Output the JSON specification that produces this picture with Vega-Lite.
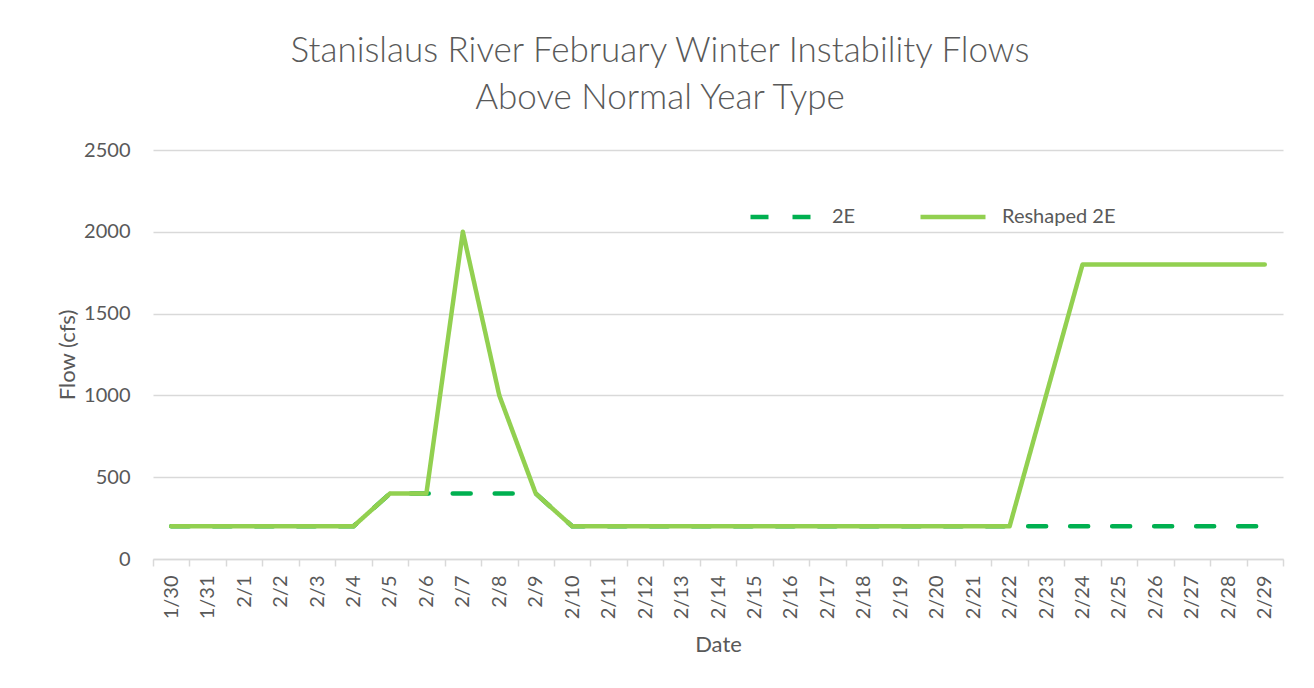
{
  "$schema": "https://vega.github.io/schema/vega-lite/v6.json",
  "autosize": "none",
  "width": 1130,
  "height": 409,
  "padding": {"left": 153, "top": 150, "right": 31, "bottom": 129},
  "background": "white",
  "config": {
    "font": "Lato",
    "view": {"stroke": null}
  },
  "title": {
    "text": ["Stanislaus River February Winter Instability Flows", "Above Normal Year Type"],
    "font": "Lato",
    "fontSize": 35,
    "fontWeight": 300,
    "color": "#595959",
    "anchor": "middle",
    "dx": -58,
    "offset": 24,
    "lineHeight": 47
  },
  "data": {
    "values": [
      {"date": "1/30", "series": "2E", "flow": 200},
      {"date": "1/31", "series": "2E", "flow": 200},
      {"date": "2/1", "series": "2E", "flow": 200},
      {"date": "2/2", "series": "2E", "flow": 200},
      {"date": "2/3", "series": "2E", "flow": 200},
      {"date": "2/4", "series": "2E", "flow": 200},
      {"date": "2/5", "series": "2E", "flow": 400},
      {"date": "2/6", "series": "2E", "flow": 400},
      {"date": "2/7", "series": "2E", "flow": 400},
      {"date": "2/8", "series": "2E", "flow": 400},
      {"date": "2/9", "series": "2E", "flow": 400},
      {"date": "2/10", "series": "2E", "flow": 200},
      {"date": "2/11", "series": "2E", "flow": 200},
      {"date": "2/12", "series": "2E", "flow": 200},
      {"date": "2/13", "series": "2E", "flow": 200},
      {"date": "2/14", "series": "2E", "flow": 200},
      {"date": "2/15", "series": "2E", "flow": 200},
      {"date": "2/16", "series": "2E", "flow": 200},
      {"date": "2/17", "series": "2E", "flow": 200},
      {"date": "2/18", "series": "2E", "flow": 200},
      {"date": "2/19", "series": "2E", "flow": 200},
      {"date": "2/20", "series": "2E", "flow": 200},
      {"date": "2/21", "series": "2E", "flow": 200},
      {"date": "2/22", "series": "2E", "flow": 200},
      {"date": "2/23", "series": "2E", "flow": 200},
      {"date": "2/24", "series": "2E", "flow": 200},
      {"date": "2/25", "series": "2E", "flow": 200},
      {"date": "2/26", "series": "2E", "flow": 200},
      {"date": "2/27", "series": "2E", "flow": 200},
      {"date": "2/28", "series": "2E", "flow": 200},
      {"date": "2/29", "series": "2E", "flow": 200},
      {"date": "1/30", "series": "Reshaped 2E", "flow": 200},
      {"date": "1/31", "series": "Reshaped 2E", "flow": 200},
      {"date": "2/1", "series": "Reshaped 2E", "flow": 200},
      {"date": "2/2", "series": "Reshaped 2E", "flow": 200},
      {"date": "2/3", "series": "Reshaped 2E", "flow": 200},
      {"date": "2/4", "series": "Reshaped 2E", "flow": 200},
      {"date": "2/5", "series": "Reshaped 2E", "flow": 400},
      {"date": "2/6", "series": "Reshaped 2E", "flow": 400},
      {"date": "2/7", "series": "Reshaped 2E", "flow": 2000},
      {"date": "2/8", "series": "Reshaped 2E", "flow": 1000},
      {"date": "2/9", "series": "Reshaped 2E", "flow": 400},
      {"date": "2/10", "series": "Reshaped 2E", "flow": 200},
      {"date": "2/11", "series": "Reshaped 2E", "flow": 200},
      {"date": "2/12", "series": "Reshaped 2E", "flow": 200},
      {"date": "2/13", "series": "Reshaped 2E", "flow": 200},
      {"date": "2/14", "series": "Reshaped 2E", "flow": 200},
      {"date": "2/15", "series": "Reshaped 2E", "flow": 200},
      {"date": "2/16", "series": "Reshaped 2E", "flow": 200},
      {"date": "2/17", "series": "Reshaped 2E", "flow": 200},
      {"date": "2/18", "series": "Reshaped 2E", "flow": 200},
      {"date": "2/19", "series": "Reshaped 2E", "flow": 200},
      {"date": "2/20", "series": "Reshaped 2E", "flow": 200},
      {"date": "2/21", "series": "Reshaped 2E", "flow": 200},
      {"date": "2/22", "series": "Reshaped 2E", "flow": 200},
      {"date": "2/23", "series": "Reshaped 2E", "flow": 1000},
      {"date": "2/24", "series": "Reshaped 2E", "flow": 1800},
      {"date": "2/25", "series": "Reshaped 2E", "flow": 1800},
      {"date": "2/26", "series": "Reshaped 2E", "flow": 1800},
      {"date": "2/27", "series": "Reshaped 2E", "flow": 1800},
      {"date": "2/28", "series": "Reshaped 2E", "flow": 1800},
      {"date": "2/29", "series": "Reshaped 2E", "flow": 1800}
    ]
  },
  "mark": {"type": "line", "strokeWidth": 4.5, "strokeCap": "round", "strokeJoin": "round"},
  "encoding": {
    "x": {
      "field": "date",
      "type": "nominal",
      "sort": null,
      "scale": {"paddingInner": 0, "paddingOuter": 0},
      "axis": {
        "title": "Date",
        "titleFont": "Lato",
        "titleFontSize": 22,
        "titleFontWeight": "normal",
        "titleColor": "#595959",
        "titlePadding": 16,
        "labelAngle": -90,
        "labelFontSize": 20,
        "labelColor": "#595959",
        "labelPadding": 9,
        "tickBand": "extent",
        "tickColor": "#d9d9d9",
        "tickSize": 7,
        "tickWidth": 1.5,
        "domainColor": "#d9d9d9",
        "domainWidth": 1.5,
        "grid": false
      }
    },
    "y": {
      "field": "flow",
      "type": "quantitative",
      "scale": {"domain": [0, 2500]},
      "axis": {
        "title": "Flow (cfs)",
        "titleFont": "Lato",
        "titleFontSize": 22,
        "titleFontWeight": "normal",
        "titleColor": "#595959",
        "titlePadding": 4,
        "values": [0, 500, 1000, 1500, 2000, 2500],
        "format": "d",
        "labelFontSize": 20,
        "labelColor": "#595959",
        "labelPadding": 23,
        "ticks": false,
        "domain": false,
        "grid": true,
        "gridColor": "#d9d9d9",
        "gridWidth": 1.5
      }
    },
    "color": {
      "field": "series",
      "type": "nominal",
      "scale": {"domain": ["2E", "Reshaped 2E"], "range": ["#00B050", "#92D050"]},
      "legend": {
        "title": null,
        "orient": "none",
        "legendX": 595,
        "legendY": 32,
        "direction": "horizontal",
        "symbolType": "stroke",
        "symbolSize": 4225,
        "symbolStrokeWidth": 4.5,
        "labelFontSize": 20,
        "labelColor": "#595959",
        "labelOffset": 14,
        "columnPadding": 55
      }
    },
    "strokeDash": {
      "field": "series",
      "type": "nominal",
      "scale": {"domain": ["2E", "Reshaped 2E"], "range": [[18, 24], [1, 0]]},
      "legend": {
        "title": null,
        "orient": "none",
        "legendX": 595,
        "legendY": 32,
        "direction": "horizontal",
        "symbolType": "stroke",
        "symbolSize": 4225,
        "symbolStrokeWidth": 4.5,
        "labelFontSize": 20,
        "labelColor": "#595959",
        "labelOffset": 14,
        "columnPadding": 55
      }
    },
    "order": {"field": "series", "type": "nominal"}
  }
}
